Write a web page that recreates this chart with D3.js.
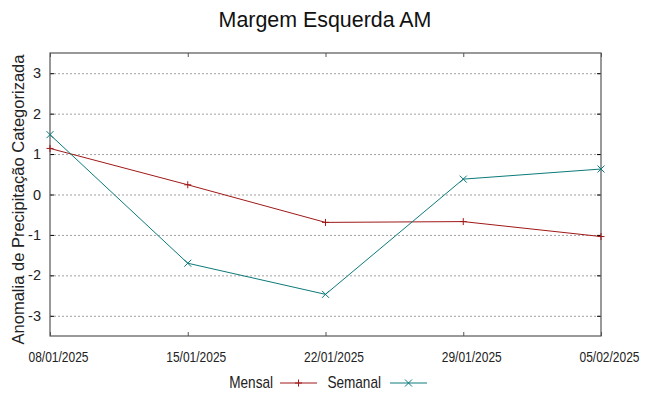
<!DOCTYPE html>
<html>
<head>
<meta charset="utf-8">
<script src="https://cdn.jsdelivr.net/npm/d3@7"></script>
<style>
  body { margin: 0; background: #fff; }
  text { font-family: "Liberation Sans", Arial, sans-serif; }
</style>
</head>
<body>
<svg width="649" height="396"></svg>
<script>
// datas e valores
var dates = ['08/01/2025', '15/01/2025', '22/01/2025', '29/01/2025', '05/02/2025'];
var mensal = [1.14, 0.24, -0.69, -0.67, -1.04];
var semanal = [1.48, -1.70, -2.47, 0.38, 0.63];
var yTicks = [-3, -2, -1, 0, 1, 2, 3];

var svg = d3.select('svg');
var margin = { top: 53, right: 48, bottom: 60, left: 50 };
var width = 649 - margin.left - margin.right;
var height = 396 - margin.top - margin.bottom;

var parse = d3.timeParse('%d/%m/%Y');
var fmt = d3.timeFormat('%d/%m/%Y');

var x = d3.scaleTime()
    .domain(d3.extent(dates, (d) => parse(d)))
    .range([0, width]);
var y = d3.scaleLinear()
    .domain([-3.5, 3.5])
    .range([height, 0]);

var g = svg.append('g')
    .attr('transform', 'translate(' + margin.left + ',' + margin.top + ')');

// grade horizontal pontilhada
g.selectAll('.grid')
    .data(yTicks)
    .enter().append('line')
    .attr('x1', 0).attr('x2', width)
    .attr('y1', (d) => y(d) + 0.5).attr('y2', (d) => y(d) + 0.5)
    .attr('stroke', '#a0a0a0')
    .attr('stroke-width', 1)
    .attr('stroke-dasharray', '2,2');

// eixo y (esquerda, ticks para dentro)
var yl = g.append('g')
    .call(d3.axisLeft(y).tickValues(yTicks).tickSize(-4).tickPadding(9).tickFormat((d) => String(d)));
yl.select('.domain').remove();
yl.selectAll('.tick line').attr('stroke', '#000');
yl.selectAll('text').attr('font-size', 14.5).attr('fill', '#222');

var yr = g.append('g')
    .attr('transform', 'translate(' + width + ',0)')
    .call(d3.axisRight(y).tickValues(yTicks).tickSize(-4).tickFormat(''));
yr.select('.domain').remove();
yr.selectAll('.tick line').attr('stroke', '#000');

// eixo x
var xTicks = dates.map(parse);
var xb = g.append('g')
    .attr('transform', 'translate(0,' + height + ')')
    .call(d3.axisBottom(x).tickValues(xTicks).tickSize(-4).tickPadding(15).tickFormat(fmt));
xb.select('.domain').remove();
xb.selectAll('.tick line').attr('stroke', '#555');
xb.selectAll('text')
    .attr('font-size', 15)
    .attr('fill', '#222')
    .attr('transform', 'translate(8,0) scale(0.8,1)');

var xt = g.append('g')
    .call(d3.axisTop(x).tickValues(xTicks).tickSize(-4).tickFormat(''));
xt.select('.domain').remove();
xt.selectAll('.tick line').attr('stroke', '#555');

// borda
g.append('rect')
    .attr('x', 0).attr('y', 0)
    .attr('width', width).attr('height', height)
    .attr('fill', 'none')
    .attr('stroke', '#555')
    .attr('stroke-width', 1.2);

var line = d3.line()
    .x((d, i) => x(parse(dates[i])))
    .y((d) => y(d));

var series = [
    { name: 'Mensal', values: mensal, color: '#a01818', marker: 'plus' },
    { name: 'Semanal', values: semanal, color: '#0c7a7a', marker: 'cross' }
];

function marker(sel, type, color) {
    var s = 3.5;
    if (type === 'plus') {
        sel.append('path').attr('d', 'M' + (-s) + ',0H' + s + 'M0,' + (-s) + 'V' + s);
    } else {
        sel.append('path').attr('d', 'M' + (-s) + ',' + (-s) + 'L' + s + ',' + s + 'M' + (-s) + ',' + s + 'L' + s + ',' + (-s));
    }
    sel.selectAll('path').attr('stroke', color).attr('stroke-width', 1).attr('fill', 'none');
}

series.forEach((s) => {
    g.append('path')
        .datum(s.values)
        .attr('fill', 'none')
        .attr('stroke', s.color)
        .attr('stroke-width', 1)
        .attr('d', line);
    s.values.forEach((v, i) => {
        var m = g.append('g')
            .attr('transform', 'translate(' + x(parse(dates[i])) + ',' + y(v) + ')');
        marker(m, s.marker, s.color);
    });
});

// titulo
svg.append('text')
    .attr('x', 325).attr('y', 27)
    .attr('text-anchor', 'middle')
    .attr('font-size', 21.4)
    .attr('fill', '#111')
    .text('Margem Esquerda AM');

// rotulo do eixo y
svg.append('text')
    .attr('transform', 'translate(24,' + (margin.top + height / 2 + 5) + ') rotate(-90)')
    .attr('text-anchor', 'middle')
    .attr('font-size', 16.5)
    .attr('fill', '#222')
    .text('Anomalia de Precipitação Categorizada');

// legenda
var legend = svg.append('g').attr('transform', 'translate(0,383)');
var lx = [{ tx: 273, l1: 280, l2: 317 }, { tx: 381, l1: 390, l2: 427 }];
series.forEach((s, i) => {
    legend.append('text')
        .attr('transform', 'translate(' + lx[i].tx + ',5) scale(0.85,1)')
        .attr('text-anchor', 'end')
        .attr('font-size', 16)
        .attr('fill', '#222')
        .text(s.name);
    legend.append('line')
        .attr('x1', lx[i].l1).attr('x2', lx[i].l2)
        .attr('stroke', s.color).attr('stroke-width', 1);
    var m = legend.append('g').attr('transform', 'translate(' + (lx[i].l1 + lx[i].l2) / 2 + ',0)');
    marker(m, s.marker, s.color);
});
</script>
</body>
</html>
